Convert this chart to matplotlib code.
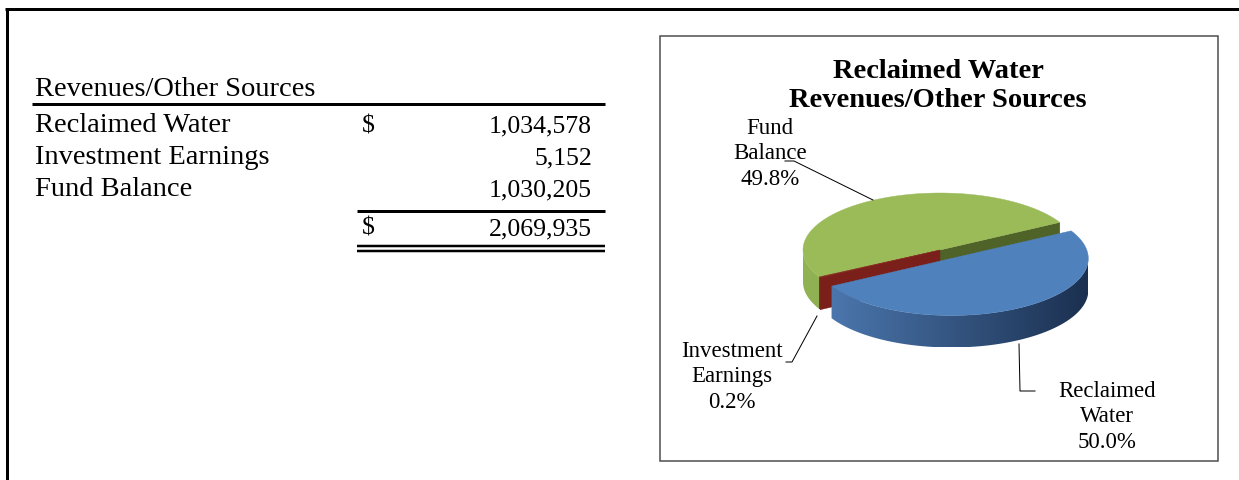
import numpy as np
import matplotlib
matplotlib.use("Agg")
import matplotlib.pyplot as plt
from matplotlib.patches import Polygon, Rectangle
from matplotlib.colors import to_rgb

# ---- data -------------------------------------------------------------
categories = ["Reclaimed Water", "Investment Earnings", "Fund Balance"]
amounts = [1034578, 5152, 1030205]
pie_labels = ["Reclaimed\nWater", "Investment\nEarnings", "Fund\nBalance"]
table_title = "Revenues/Other Sources"
chart_title = "Reclaimed Water\nRevenues/Other Sources"

# ---- canvas in pixel units -------------------------------------------
W, H = 1239, 481
fig = plt.figure(figsize=(W / 100, H / 100), dpi=100)
ax = fig.add_axes([0, 0, 1, 1])
ax.set_xlim(0, W)
ax.set_ylim(H, 0)
ax.axis("off")

SERIF = "Liberation Serif"
PX = 72 / 100  # points per pixel

# outer frame (left and top rules)
ax.plot([6.5, 6.5], [9, H], color="black", lw=3 * PX, solid_capstyle="butt")
ax.plot([5, W], [9.5, 9.5], color="black", lw=3 * PX, solid_capstyle="butt")

# ---- summary table ----------------------------------------------------
tfs = 20.5   # row captions
nfs = 18.5   # amounts
ax.text(35, 89, table_title, family=SERIF, fontsize=tfs, va="center")
ax.plot([32, 605], [105, 105], color="black", lw=3 * PX, solid_capstyle="butt")
row_y = [126, 158, 190]
for i, (name, amt) in enumerate(zip(categories, amounts)):
    ax.text(35, row_y[i], name, family=SERIF, fontsize=tfs, va="center")
    ax.text(592, row_y[i], f"{amt:,}", family=SERIF, fontsize=nfs,
            va="center", ha="right")
ax.text(362, row_y[0], "$", family=SERIF, fontsize=nfs, va="center")
total = sum(amounts)
ax.plot([357, 605], [212, 212], color="black", lw=3 * PX, solid_capstyle="butt")
ax.text(362, 229, "$", family=SERIF, fontsize=nfs, va="center")
ax.text(592, 229, f"{total:,}", family=SERIF, fontsize=nfs, va="center", ha="right")
ax.plot([357, 605], [247, 247], color="black", lw=2.5 * PX, solid_capstyle="butt")
ax.plot([357, 605], [252, 252], color="black", lw=2.5 * PX, solid_capstyle="butt")

# ---- chart box ----------------------------------------------------------
ax.add_patch(Rectangle((660, 37), 558, 425, fill=False, edgecolor="#4a4a4a",
                       lw=1.5 * PX))
ax.text(938, 86, chart_title, family=SERIF, fontsize=20.5, fontweight="bold",
        ha="center", va="center", linespacing=1.25)

# ---- 3-D pie -------------------------------------------------------------
cx, cy, rx, ry, depth = 940, 251, 137, 57, 32
start = 29.0
explode = [0.17, 0.0, 0.0]
top_col = ["#4F81BD", "#8B2A22", "#9BBB59"]
face_col = ["#2C4D75", "#7A1F1A", "#4F6228"]
side_left = ["#4E7BB3", "#7A201A", "#92B354"]
side_right = ["#1B3050", "#6A1A15", "#6E8C38"]

fr = np.array(amounts) / total
bounds = []
hi = start
for f in fr:
    lo = hi - 360 * f
    bounds.append((lo, hi))
    hi = lo


def pt(t, ox, oy, z=0.0):
    r = np.radians(t)
    return (ox + rx * np.cos(r), oy - ry * np.sin(r) + z)


def centre(i):
    lo, hi = bounds[i]
    mid = np.radians((lo + hi) / 2)
    e = explode[i]
    return cx + e * rx * np.cos(mid), cy - e * ry * np.sin(mid)


def gradient(c1, c2, n=256):
    a, b = np.array(to_rgb(c1)), np.array(to_rgb(c2))
    s = np.linspace(0, 1, n)[:, None]
    return (a + (b - a) * s)[None, :, :]


def draw_side(i, ox, oy):
    lo, hi = bounds[i]
    # the front half of the rim is where sin(t) < 0
    for k in (-1, 0):
        a0, a1 = max(lo, -180 + 360 * k), min(hi, 0 + 360 * k)
        if a1 <= a0:
            continue
        ts = np.linspace(a0, a1, max(3, int((a1 - a0) * 2)))
        poly = [pt(t, ox, oy) for t in ts] + [pt(t, ox, oy, depth) for t in ts[::-1]]
        patch = Polygon(poly, closed=True, facecolor="none", edgecolor="none")
        ax.add_patch(patch)
        im = ax.imshow(gradient(side_left[i], side_right[i]),
                       extent=(ox - rx, ox + rx, oy + ry + depth, oy - ry),
                       aspect="auto", interpolation="bilinear", zorder=patch.zorder)
        im.set_clip_path(patch)


def draw_face(i, t, ox, oy):
    poly = [(ox, oy), pt(t, ox, oy), pt(t, ox, oy, depth), (ox, oy + depth)]
    ax.add_patch(Polygon(poly, closed=True, facecolor=face_col[i],
                         edgecolor=face_col[i], lw=0.3))


def draw_top(i, ox, oy):
    lo, hi = bounds[i]
    ts = np.linspace(lo, hi, max(3, int((hi - lo) * 2)))
    poly = [(ox, oy)] + [pt(t, ox, oy) for t in ts]
    ax.add_patch(Polygon(poly, closed=True, facecolor=top_col[i],
                         edgecolor=top_col[i], lw=0.3))


def visible_faces(i):
    lo, hi = bounds[i]
    out = []
    if np.cos(np.radians(hi)) < 0:
        out.append(hi)
    if np.cos(np.radians(lo)) > 0:
        out.append(lo)
    return out


# back slices first (Fund Balance, Investment Earnings), exploded slice last
for i in (2, 1, 0):
    ox, oy = centre(i)
    for t in visible_faces(i):
        draw_face(i, t, ox, oy)
    draw_side(i, ox, oy)
    draw_top(i, ox, oy)

ax.set_xlim(0, W)
ax.set_ylim(H, 0)

# ---- data labels ----------------------------------------------------------
lfs = 16.5
pct = [f"{100 * f:.1f}%" for f in fr]
ax.text(1107, 417, f"{pie_labels[0]}\n{pct[0]}", family=SERIF, fontsize=lfs,
        ha="center", va="center", linespacing=1.3)
ax.text(732, 377, f"{pie_labels[1]}\n{pct[1]}", family=SERIF, fontsize=lfs,
        ha="center", va="center", linespacing=1.3)
ax.text(770, 154, f"{pie_labels[2]}\n{pct[2]}", family=SERIF, fontsize=lfs,
        ha="center", va="center", linespacing=1.3)

lk = dict(color="black", lw=1.0 * PX)
ax.plot([1019, 1020, 1035], [345, 392, 392], **lk)
ax.plot([786, 792, 817], [363, 363, 317], **lk)
ax.plot([785, 794, 873], [162, 162, 201], **lk)

fig.savefig("out.png", dpi=100, facecolor="white")
